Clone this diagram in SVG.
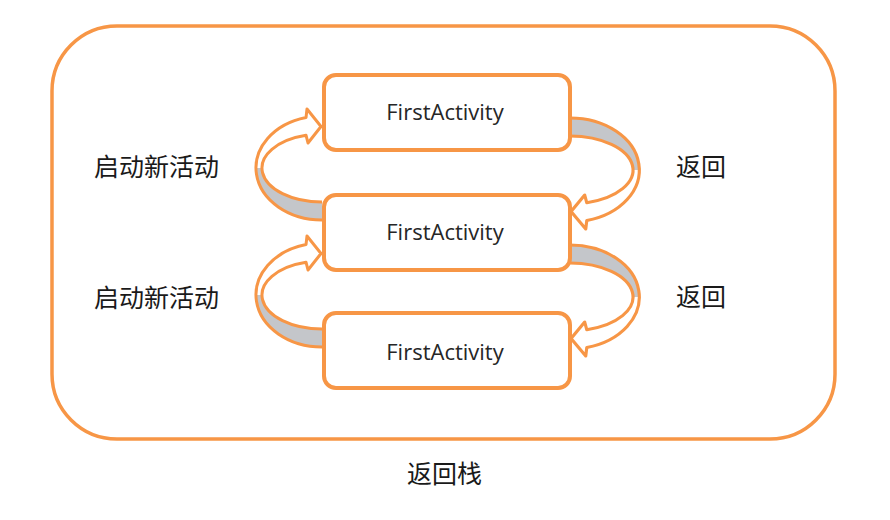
<svg xmlns="http://www.w3.org/2000/svg" width="890" height="520" viewBox="0 0 890 520">
  <style>
    .frame { fill: #ffffff; stroke: #F79646; stroke-width: 3.5; }
    .box { fill: #ffffff; stroke: #F79646; stroke-width: 4; }
    .grey { fill: #C4C6CA; stroke: none; }
    .front { fill: #ffffff; stroke: none; }
    .outline { fill: none; stroke: #F79646; stroke-width: 3; stroke-linejoin: round; }
    .node-text { font-family: "Open Sans", "Liberation Sans", sans-serif; font-size: 22px; fill: #262626; text-anchor: middle; }
    .label { font-family: "Noto Sans CJK SC", sans-serif; font-size: 25px; fill: #1a1a1a; }
  </style>
  <defs>
    <g id="curved-arrow">
      <path class="front" d="M -66,0 A 66 52 0 0 1 -16,-50.45 L -15,-59 L -1,-41.5 L -14,-25 L -16,-32.77 A 60 34 0 0 0 -60,0 Z"/>
      <path class="grey" d="M -66,0 A 66 52 0 0 0 0,52 L 0,34 A 60 34 0 0 1 -60,0 Z"/>
      <path class="outline" d="M 0,52 A 66 52 0 0 1 -16,-50.45 L -15,-59 L -1,-41.5 L -14,-25 L -16,-32.77 A 60 34 0 0 0 0,34"/>
    </g>
  </defs>

  <g id="back-stack">
    <rect class="frame" x="52" y="26" width="783" height="413" rx="65" ry="65"/>
    <text class="label" x="407" y="483">返回栈</text>
  </g>

  <g id="connectors">
    <use href="#curved-arrow" transform="translate(322,168)"/>
    <use href="#curved-arrow" transform="translate(322,295)"/>
    <use href="#curved-arrow" transform="translate(570,170) rotate(180) scale(1.05,1)"/>
    <use href="#curved-arrow" transform="translate(570,297) rotate(180) scale(1.05,1)"/>
    <text class="label" x="94" y="176">启动新活动</text>
    <text class="label" x="94" y="307">启动新活动</text>
    <text class="label" x="676" y="176">返回</text>
    <text class="label" x="676" y="306">返回</text>
  </g>

  <g id="activity-1">
    <rect class="box" x="324" y="75" width="246" height="75" rx="12" ry="12"/>
    <text class="node-text" x="445" y="120">FirstActivity</text>
  </g>
  <g id="activity-2">
    <rect class="box" x="324" y="195" width="246" height="75" rx="12" ry="12"/>
    <text class="node-text" x="445" y="240">FirstActivity</text>
  </g>
  <g id="activity-3">
    <rect class="box" x="324" y="313" width="246" height="75" rx="12" ry="12"/>
    <text class="node-text" x="445" y="360">FirstActivity</text>
  </g>
</svg>
